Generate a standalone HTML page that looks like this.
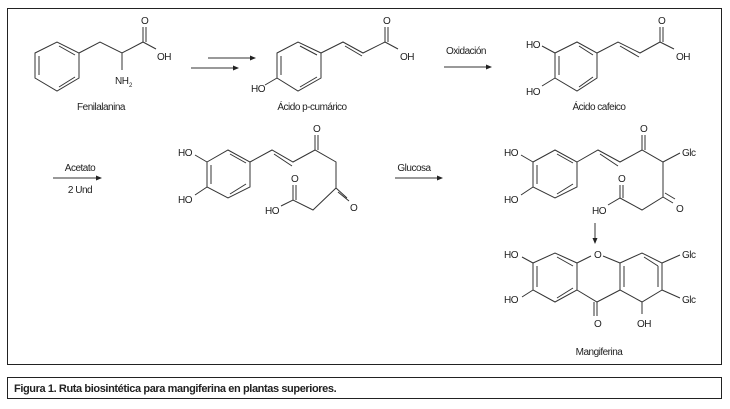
<!DOCTYPE html>
<html><head><meta charset="utf-8"><style>
html,body{margin:0;padding:0;background:#fff;}
svg{display:block;}
text{font-family:"Liberation Sans",sans-serif;font-size:10px;letter-spacing:-0.5px;fill:#222;}
.b{stroke:#333;stroke-width:1;fill:none;}
</style></head><body>
<svg width="730" height="409" viewBox="0 0 730 409" xmlns="http://www.w3.org/2000/svg">
<defs><marker id="a" markerWidth="6" markerHeight="6" refX="5" refY="3" orient="auto"><path d="M0,0.5 L6,3 L0,5.5 Z" fill="#222"/></marker></defs>
<rect x="7.5" y="8.5" width="714" height="356" fill="none" stroke="#222" stroke-width="1"/>
<rect x="7.5" y="377.5" width="714" height="21" fill="none" stroke="#222" stroke-width="1"/>
<text x="14" y="392" style="font-weight:bold;font-size:11px;letter-spacing:-0.4px">Figura 1.  Ruta biosintética para mangiferina en plantas superiores.</text>

<!-- Fenilalanina -->
<g class="b">
<path d="M35,53 L57,42 L79,53 L79,78 L57,91 L35,78 Z"/>
<path d="M39,56 L39,75 M59,87 L75,77 M59,46 L75,55"/>
<path d="M79,53 L100,42 L122,53 L143,42 L156,49 M143,42 L143,27 M146,42 L146,27 M122,53 L122,70"/>
</g>
<text x="141" y="24">O</text><text x="157" y="60">OH</text><text x="115" y="84">NH</text><text x="129" y="87" style="font-size:6px">2</text>
<text x="101" y="110" text-anchor="middle">Fenilalanina</text>
<line class="b" x1="208" y1="58" x2="255" y2="58" marker-end="url(#a)"/>
<line class="b" x1="191" y1="68" x2="238" y2="68" marker-end="url(#a)"/>

<!-- p-cumarico -->
<g class="b">
<path d="M277,53 L298,42 L321,53 L321,78 L298,91 L277,78 Z"/>
<path d="M281,56 L281,75 M300,87 L317,77 M300,46 L317,55"/>
<path d="M277,78 L265,85 M321,53 L343,42 L363,53 L385,42 L398,49 M345,46 L362,56 M385,42 L385,27 M388,42 L388,27"/>
</g>
<text x="383" y="24">O</text><text x="400" y="60">OH</text><text x="251" y="92">HO</text>
<text x="312" y="110" text-anchor="middle">Ácido p-cumárico</text>

<text x="466" y="54" text-anchor="middle">Oxidación</text>
<line class="b" x1="444" y1="67" x2="491" y2="67" marker-end="url(#a)"/>

<!-- cafeico -->
<g class="b">
<path d="M555,53 L577,42 L597,53 L597,78 L577,91 L555,78 Z"/>
<path d="M559,56 L559,75 M579,87 L593,77 M579,46 L593,55"/>
<path d="M555,53 L542,46 M555,78 L542,86 M597,53 L618,42 L640,53 L660,42 L674,49 M620,46 L639,57 M660,42 L660,27 M663,42 L663,27"/>
</g>
<text x="658" y="24">O</text><text x="676" y="60">OH</text><text x="526" y="48">HO</text><text x="526" y="95">HO</text>
<text x="599" y="110" text-anchor="middle">Ácido cafeico</text>

<!-- Acetato -->
<text x="80" y="171" text-anchor="middle">Acetato</text>
<line class="b" x1="53" y1="178" x2="101" y2="178" marker-end="url(#a)"/>
<text x="80" y="193" text-anchor="middle">2 Und</text>

<g class="b">
<path d="M207,162 L228,150 L250,162 L250,187 L228,198 L207,187 Z"/>
<path d="M211,165 L211,184 M230,194 L246,184 M230,154 L246,163"/>
<path d="M207,162 L195,155 M207,187 L195,195 M250,162 L272,150 L293,162 L315,150 L336,162 L336,188 L313,210 L293,200 L281,206 M274,154 L292,166 M315,150 L315,135 M318,150 L318,135 M336,188 L347,198 M338,192 L349,201 M293,200 L293,185 M296,200 L296,185"/>
</g>
<text x="313" y="132">O</text><text x="350" y="211">O</text><text x="291" y="182">O</text>
<text x="178" y="156">HO</text><text x="178" y="203">HO</text><text x="265" y="214">HO</text>

<!-- Glucosa -->
<text x="414" y="171" text-anchor="middle">Glucosa</text>
<line class="b" x1="395" y1="178" x2="442" y2="178" marker-end="url(#a)"/>

<g class="b">
<path d="M533,162 L555,150 L577,162 L577,187 L555,198 L533,187 Z"/>
<path d="M537,165 L537,184 M557,194 L573,184 M557,154 L573,163"/>
<path d="M533,162 L521,155 M533,187 L521,195 M577,162 L598,150 L620,162 L642,150 L663,162 L680,153 M600,154 L618,166 M642,150 L642,135 M645,150 L645,135 M663,162 L663,197 L642,210 L620,198 L608,205 M663,197 L673,203 M665,193 L675,199 M620,198 L620,185 M623,198 L623,185"/>
</g>
<text x="640" y="132">O</text><text x="676" y="212">O</text><text x="618" y="182">O</text><text x="682" y="156">Glc</text>
<text x="504" y="156">HO</text><text x="504" y="203">HO</text><text x="592" y="214">HO</text>

<line class="b" x1="595" y1="223" x2="595" y2="243" marker-end="url(#a)"/>

<!-- Mangiferina -->
<g class="b">
<path d="M533,263 L555,253 L577,263 L577,290 L555,302 L533,290 Z"/>
<path d="M537,266 L537,287 M557,298 L573,288 M557,257 L573,266"/>
<path d="M620,263 L642,253 L662,263 L662,290 L642,302 L620,290 Z"/>
<path d="M624,266 L624,287 M644,257 L658,266 M658,266 L658,287"/>
<path d="M577,263 L591,256 M603,256 L620,263 M577,290 L597,302 L620,290 M597,302 L597,316 M594,302 L594,316 M533,263 L522,257 M533,290 L522,297 M662,263 L680,255 M662,290 L680,298 M642,302 L642,314"/>
</g>
<text x="594" y="258">O</text><text x="594" y="327">O</text><text x="637" y="327">OH</text>
<text x="682" y="258">Glc</text><text x="682" y="303">Glc</text>
<text x="504" y="258">HO</text><text x="504" y="303">HO</text>
<text x="599" y="355" text-anchor="middle">Mangiferina</text>
</svg>
</body></html>
